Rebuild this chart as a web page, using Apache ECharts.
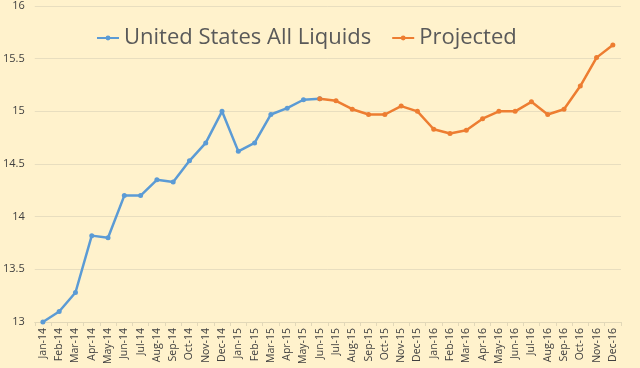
<!DOCTYPE html>
<html><head><meta charset="utf-8">
<script src="https://cdn.jsdelivr.net/npm/echarts@6/dist/echarts.min.js"></script>
<style>html,body{margin:0;padding:0;background:#FFF2CC}#c{width:640px;height:368px}</style>
</head><body><div id="c"></div>
<script>
var categories = ["Jan-14","Feb-14","Mar-14","Apr-14","May-14","Jun-14","Jul-14","Aug-14","Sep-14","Oct-14","Nov-14","Dec-14",
"Jan-15","Feb-15","Mar-15","Apr-15","May-15","Jun-15","Jul-15","Aug-15","Sep-15","Oct-15","Nov-15","Dec-15",
"Jan-16","Feb-16","Mar-16","Apr-16","May-16","Jun-16","Jul-16","Aug-16","Sep-16","Oct-16","Nov-16","Dec-16"];
var actual = [13.00,13.10,13.28,13.82,13.80,14.20,14.20,14.35,14.33,14.53,14.70,15.00,
14.62,14.70,14.97,15.03,15.11,15.12,null,null,null,null,null,null,
null,null,null,null,null,null,null,null,null,null,null,null];
var projected = [null,null,null,null,null,null,null,null,null,null,null,null,
null,null,null,null,null,15.12,15.10,15.02,14.97,14.97,15.05,15.00,
14.83,14.79,14.82,14.93,15.00,15.00,15.09,14.97,15.02,15.24,15.51,15.63];
var seriesNames = ["United States All Liquids","Projected"];
var yTicks = [13,13.5,14,14.5,15,15.5,16];

var chart = echarts.init(document.getElementById('c'));
chart.setOption({
  backgroundColor: '#FFF2CC',
  animation: false,
  textStyle: {fontFamily: 'Open Sans'},
  legend: {
    top: 22, left: 91,
    itemWidth: 22, itemHeight: 6, itemGap: 20,
    textStyle: {fontSize: 22, color: '#595959', fontFamily: 'Open Sans'},
    data: seriesNames
  },
  grid: {left: 34, right: 19, top: 6, bottom: 46, containLabel: false},
  xAxis: {
    type: 'category', data: categories, boundaryGap: true,
    axisLine: {lineStyle: {color: '#E2D8B8'}},
    axisTick: {show: true, alignWithLabel: false, length: 4, lineStyle: {color: '#E2D8B8'}},
    axisLabel: {rotate: 90, interval: 0, fontSize: 10.5, color: '#404040', margin: 6}
  },
  yAxis: {
    type: 'value', min: yTicks[0], max: yTicks[yTicks.length-1], interval: 0.5,
    axisLine: {show: false}, axisTick: {show: false},
    splitLine: {lineStyle: {color: '#E8DEBF'}},
    axisLabel: {fontSize: 11, color: '#404040', margin: 10,
      formatter: function(v){ return String(v); }}
  },
  series: [
    {name: seriesNames[0], type: 'line', data: actual, connectNulls: false,
     symbol: 'circle', symbolSize: 5, showSymbol: true,
     itemStyle: {color: '#5B9BD5'}, lineStyle: {width: 2.5, color: '#5B9BD5'}},
    {name: seriesNames[1], type: 'line', data: projected, connectNulls: false,
     symbol: 'circle', symbolSize: 5, showSymbol: true,
     itemStyle: {color: '#ED7D31'}, lineStyle: {width: 2.5, color: '#ED7D31'}}
  ]
});
</script></body></html>
